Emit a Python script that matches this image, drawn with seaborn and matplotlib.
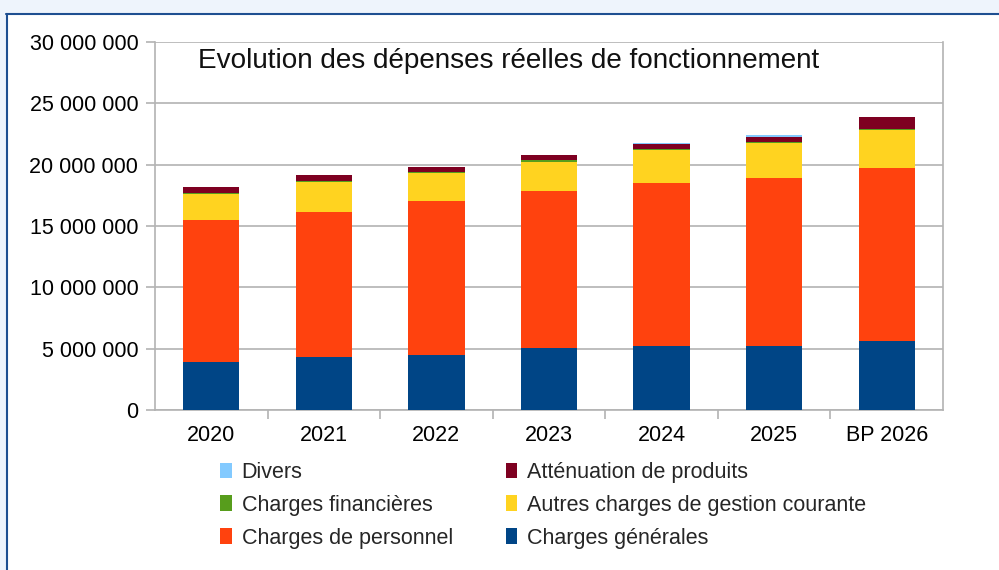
import numpy as np
import pandas as pd
import matplotlib
matplotlib.use('Agg')
import matplotlib.pyplot as plt
from matplotlib.patches import Patch, Rectangle
from matplotlib.lines import Line2D
from matplotlib.ticker import FuncFormatter, FixedLocator
import seaborn as sns

# Data (values in euros)
years = ['2020', '2021', '2022', '2023', '2024', '2025', 'BP 2026']
charges_generales = [3.88e6, 4.28e6, 4.52e6, 5.06e6, 5.19e6, 5.19e6, 5.60e6]
charges_personnel = [11.60e6, 11.86e6, 12.51e6, 12.79e6, 13.31e6, 13.72e6, 14.12e6]
autres_charges = [2.10e6, 2.42e6, 2.26e6, 2.39e6, 2.69e6, 2.83e6, 3.08e6]
charges_financieres = [0.15e6, 0.10e6, 0.10e6, 0.15e6, 0.10e6, 0.10e6, 0.08e6]
attenuation = [0.45e6, 0.49e6, 0.40e6, 0.43e6, 0.40e6, 0.38e6, 0.98e6]
divers = [0, 0, 0, 0, 0.10e6, 0.16e6, 0]

# stacking order, bottom to top
series = [
    ('Charges générales', charges_generales, '#004586'),
    ('Charges de personnel', charges_personnel, '#ff420e'),
    ('Autres charges de gestion courante', autres_charges, '#ffd320'),
    ('Charges financières', charges_financieres, '#579d1c'),
    ('Atténuation de produits', attenuation, '#7e0021'),
    ('Divers', divers, '#83caff'),
]

sns.set_theme(style='white')
plt.rcParams['font.family'] = ['Liberation Sans', 'DejaVu Sans']

fig = plt.figure(figsize=(9.99, 5.70), dpi=100)
fig.patch.set_facecolor('white')

# window-like frame around the chart
fig.add_artist(Rectangle((0, 1 - 13 / 570), 1, 13 / 570, transform=fig.transFigure,
                         facecolor='#eef4fc', edgecolor='none', zorder=0))
fig.add_artist(Rectangle((0, 0), 6 / 999, 1, transform=fig.transFigure,
                         facecolor='#eef4fc', edgecolor='none', zorder=0))
fig.add_artist(Line2D([6 / 999, 1], [1 - 13.5 / 570] * 2, transform=fig.transFigure,
                      color='#1e4f91', lw=1.5))
fig.add_artist(Line2D([6.5 / 999] * 2, [0, 1 - 13.5 / 570], transform=fig.transFigure,
                      color='#1e4f91', lw=1.5))

ax = fig.add_axes([155 / 999, 1 - 410 / 570, (943 - 155) / 999, (410 - 42) / 570])

# cumulative tops, draw tallest first so lower layers overlay
df = pd.DataFrame({name: vals for name, vals, _ in series}, index=years)
cum = df.cumsum(axis=1)
for name, _, color in reversed(series):
    sns.barplot(x=years, y=cum[name].values, color=color, width=0.5,
                saturation=1, linewidth=0, ax=ax, zorder=3)

ax.set_ylim(0, 30e6)
ax.set_xlim(-0.5, len(years) - 0.5)
ax.set_yticks(np.arange(0, 30e6 + 1, 5e6))
ax.yaxis.set_major_formatter(FuncFormatter(lambda v, p: f'{int(v):,}'.replace(',', ' ')))
ax.grid(axis='y', color='#b3b3b3', lw=1.2, zorder=0)
ax.set_axisbelow(True)

for side in ['left', 'right', 'bottom', 'top']:
    ax.spines[side].set_color('#b3b3b3')
    ax.spines[side].set_linewidth(1.2)
ax.spines['top'].set_visible(False)

ax.tick_params(axis='y', left=True, length=6.5, width=1.2, color='#b3b3b3',
               labelsize=15.5, labelcolor='black', pad=5.5)
ax.tick_params(axis='x', which='major', length=0, labelsize=15.5,
               labelcolor='black', pad=11)
ax.xaxis.set_minor_locator(FixedLocator(np.arange(0.5, len(years) - 1, 1)))
ax.tick_params(axis='x', which='minor', bottom=True, length=6.5, width=1.2,
               color='#b3b3b3')
ax.set_xlabel('')
ax.set_ylabel('')

ax.text(198 / 999, 1 - 61 / 570, 'Evolution des dépenses réelles de fonctionnement',
        transform=fig.transFigure, fontsize=20.1, va='center', ha='left', color='#111111')

# legend: row order Divers, Atténuation / Financières, Autres / Personnel, Générales
colors = {name: color for name, _, color in series}
order = ['Divers', 'Charges financières', 'Charges de personnel',
         'Atténuation de produits', 'Autres charges de gestion courante', 'Charges générales']
handles = [Patch(facecolor=colors[n], edgecolor='none') for n in order]
fig.legend(handles, order, loc='upper left', bbox_to_anchor=(220 / 999, 1 - 462 / 570),
           ncol=2, frameon=False, fontsize=15.5, handlelength=0.55, handleheight=0.75,
           handletextpad=0.45, columnspacing=2.45, labelspacing=0.55,
           borderpad=0, borderaxespad=0)

fig.savefig('out.png', dpi=100)
